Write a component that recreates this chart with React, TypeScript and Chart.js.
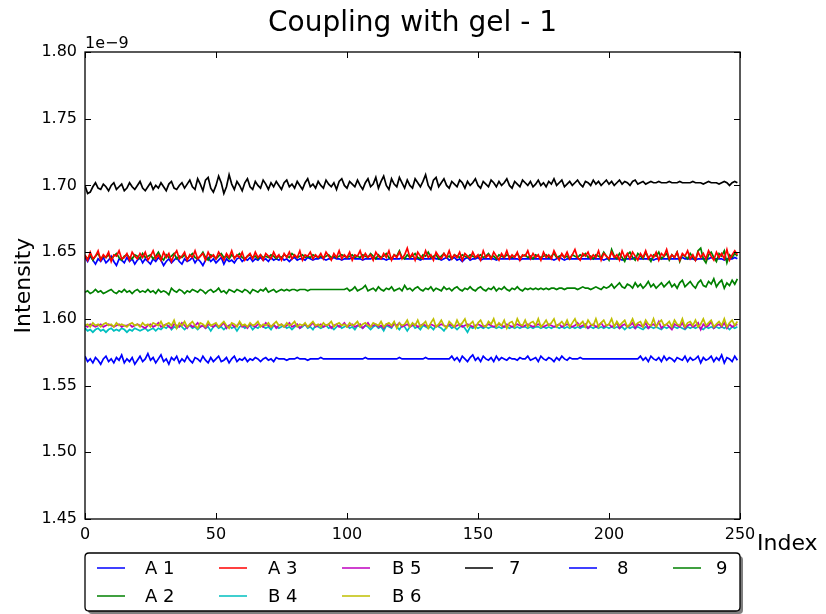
import { useEffect, useRef } from "react";
import { Chart, registerables } from "chart.js";

Chart.register(...registerables);

// ---------- text ----------
const TITLE = "Coupling with gel - 1";
const X_LABEL = "Index";
const Y_LABEL = "Intensity";
const Y_OFFSET_LABEL = "1e\u22129";

// ---------- ticks ----------
const X_TICKS = [0, 50, 100, 150, 200, 250];
const Y_TICKS = [1.45, 1.5, 1.55, 1.6, 1.65, 1.7, 1.75, 1.8];

// ---------- series (values in units of 1e-12, i.e. 1645 -> 1.645e-9) ----------
const SERIES_LABELS = ["A 1", "A 2", "A 3", "B 4", "B 5", "B 6", "7", "8", "9"];
const SERIES_COLORS = ["#0000ff", "#008000", "#ff0000", "#00bfbf", "#bf00bf", "#bfbf00", "#000000", "#0000ff", "#008000"];

const A1 = [
  1646,1643,1647,1644,1641,1645,1643,1646,1642,1644,1647,1643,1640,1645,1644,1642,1646,1643,1645,1641,1644,1646,1642,1645,1643,
  1641,1645,1643,1646,1644,1640,1643,1645,1642,1644,1646,1643,1641,1645,1643,1644,1646,1642,1645,1643,1640,1644,1646,1643,1645,
  1642,1644,1646,1641,1645,1643,1644,1642,1645,1646,1643,1645,1644,1646,1643,1645,1644,1646,1644,1645,1643,1646,1644,1645,1644,
  1646,1644,1645,1643,1645,1646,1644,1645,1645,1644,1646,1645,1644,1645,1645,1646,1645,1644,1645,1645,1646,1645,1645,1644,1645,
  1645,1645,1646,1645,1645,1645,1644,1645,1645,1645,1646,1645,1645,1645,1645,1644,1645,1645,1645,1645,1645,1646,1645,1645,1645,
  1645,1645,1645,1644,1645,1645,1645,1645,1646,1645,1645,1644,1645,1646,1644,1645,1646,1644,1645,1643,1645,1646,1644,1645,1645,
  1646,1644,1645,1645,1645,1645,1645,1644,1645,1645,1645,1645,1645,1645,1645,1645,1644,1645,1645,1645,1645,1645,1645,1645,1645,
  1645,1645,1645,1645,1644,1645,1646,1645,1644,1645,1645,1645,1645,1645,1645,1645,1645,1645,1645,1645,1645,1645,1645,1644,1645,
  1645,1645,1645,1645,1645,1644,1645,1645,1645,1645,1646,1645,1645,1645,1645,1645,1645,1644,1645,1645,1645,1645,1645,1645,1645,
  1645,1645,1645,1646,1645,1645,1645,1645,1644,1645,1645,1645,1645,1645,1646,1645,1645,1645,1645,1644,1645,1645,1645,1646,1645,
];

const A2 = [
  1647,1645,1648,1644,1647,1649,1645,1647,1646,1648,1645,1647,1649,1646,1644,1647,1648,1646,1645,1648,1647,1645,1649,1646,1647,
  1648,1645,1647,1650,1646,1644,1648,1646,1647,1649,1645,1647,1646,1648,1645,1647,1649,1646,1645,1647,1650,1646,1644,1648,1647,
  1645,1647,1649,1646,1647,1645,1648,1646,1647,1649,1646,1645,1647,1648,1646,1647,1645,1648,1646,1647,1646,1648,1647,1645,1647,
  1646,1648,1647,1646,1649,1647,1646,1647,1648,1646,1647,1646,1648,1647,1646,1647,1646,1647,1648,1646,1647,1646,1647,1648,1647,
  1646,1647,1648,1646,1647,1646,1648,1647,1646,1649,1647,1645,1648,1646,1647,1649,1646,1645,1648,1647,1651,1646,1645,1648,1646,
  1647,1649,1646,1645,1648,1647,1650,1646,1647,1648,1645,1647,1649,1646,1647,1645,1648,1647,1646,1648,1647,1646,1648,1647,1646,
  1647,1648,1646,1647,1649,1646,1647,1645,1648,1647,1646,1648,1647,1646,1647,1649,1646,1647,1648,1646,1647,1645,1648,1647,1646,
  1647,1648,1646,1647,1649,1646,1647,1648,1646,1647,1645,1648,1647,1646,1648,1647,1649,1646,1647,1645,1648,1647,1646,1650,1647,
  1644,1652,1647,1645,1649,1646,1643,1648,1650,1646,1644,1649,1647,1645,1650,1646,1643,1648,1647,1650,1645,1647,1649,1644,1648,
  1646,1650,1643,1648,1647,1645,1649,1646,1644,1651,1653,1645,1642,1648,1650,1646,1643,1649,1647,1651,1642,1648,1646,1649,1647,
];

const A3 = [
  1648,1644,1650,1645,1647,1651,1644,1648,1646,1650,1643,1648,1647,1651,1645,1646,1649,1644,1650,1647,1645,1649,1646,1650,1644,
  1647,1651,1645,1648,1644,1650,1646,1649,1643,1648,1651,1645,1647,1650,1644,1648,1646,1651,1645,1647,1649,1644,1650,1646,1648,
  1645,1650,1647,1644,1649,1646,1651,1645,1648,1646,1650,1644,1647,1649,1645,1650,1646,1648,1644,1649,1647,1645,1650,1646,1648,
  1644,1649,1646,1650,1645,1648,1646,1651,1644,1648,1647,1650,1645,1648,1646,1649,1645,1650,1647,1644,1649,1646,1651,1645,1648,
  1646,1650,1644,1648,1647,1651,1645,1649,1646,1648,1644,1650,1647,1645,1649,1646,1651,1644,1648,1646,1650,1645,1648,1653,1646,
  1649,1644,1650,1647,1645,1651,1646,1648,1644,1650,1647,1645,1649,1646,1651,1645,1648,1646,1650,1644,1649,1647,1645,1650,1646,
  1648,1644,1651,1646,1648,1645,1650,1647,1644,1649,1646,1651,1645,1648,1646,1650,1644,1648,1647,1651,1645,1649,1646,1648,1644,
  1650,1646,1648,1645,1651,1647,1644,1649,1646,1650,1645,1648,1652,1646,1644,1649,1647,1650,1645,1648,1646,1651,1644,1649,1647,
  1645,1650,1646,1648,1644,1651,1646,1649,1645,1650,1647,1644,1649,1646,1651,1645,1648,1646,1650,1644,1649,1647,1652,1645,1648,
  1646,1650,1644,1649,1647,1651,1645,1648,1644,1650,1646,1649,1645,1651,1647,1644,1650,1646,1649,1645,1652,1644,1648,1651,1648,
];

const B4 = [
  1593,1591,1592,1590,1592,1593,1591,1592,1590,1592,1593,1591,1592,1591,1593,1592,1590,1592,1591,1593,1592,1591,1592,1593,1591,
  1592,1593,1591,1593,1592,1594,1593,1595,1592,1594,1593,1595,1594,1592,1594,1595,1593,1594,1592,1594,1595,1593,1594,1591,1594,
  1595,1593,1594,1592,1594,1595,1593,1594,1591,1594,1595,1593,1594,1595,1592,1594,1593,1595,1594,1593,1594,1592,1595,1594,1593,
  1594,1595,1593,1594,1592,1594,1595,1593,1594,1596,1593,1594,1592,1595,1594,1593,1594,1595,1593,1594,1592,1594,1595,1593,1594,
  1595,1593,1594,1592,1595,1594,1593,1595,1594,1592,1594,1595,1593,1594,1591,1595,1594,1593,1597,1594,1592,1595,1594,1591,1594,
  1596,1593,1594,1592,1595,1594,1593,1594,1592,1595,1594,1593,1591,1594,1595,1593,1594,1592,1594,1595,1593,1590,1594,1593,1594,
  1593,1594,1593,1594,1593,1594,1594,1593,1594,1593,1594,1594,1593,1594,1593,1594,1593,1594,1594,1593,1594,1593,1594,1594,1593,
  1594,1593,1594,1593,1594,1594,1593,1594,1593,1594,1593,1594,1593,1594,1593,1594,1594,1593,1594,1593,1594,1593,1594,1593,1594,
  1593,1594,1593,1594,1593,1594,1592,1594,1593,1594,1593,1594,1593,1592,1594,1593,1594,1593,1594,1593,1592,1594,1593,1594,1593,
  1594,1593,1594,1593,1592,1594,1593,1594,1593,1594,1593,1592,1594,1593,1594,1593,1594,1593,1594,1593,1594,1592,1594,1593,1594,
];

const B5 = [
  1595,1594,1596,1595,1594,1595,1596,1594,1595,1596,1595,1594,1595,1596,1594,1595,1595,1596,1594,1595,1596,1595,1594,1593,1595,
  1596,1594,1595,1597,1594,1595,1596,1594,1593,1596,1595,1594,1597,1595,1593,1596,1594,1595,1597,1594,1595,1593,1596,1595,1594,
  1596,1594,1595,1597,1593,1595,1596,1594,1595,1597,1594,1595,1593,1596,1595,1594,1596,1595,1594,1597,1595,1594,1596,1593,1595,
  1596,1594,1595,1597,1594,1595,1596,1593,1595,1596,1594,1595,1597,1594,1595,1596,1594,1595,1596,1593,1595,1596,1594,1595,1597,
  1594,1595,1596,1594,1595,1596,1593,1595,1597,1594,1595,1596,1594,1595,1593,1596,1595,1594,1596,1595,1597,1594,1595,1596,1594,
  1595,1596,1594,1595,1596,1595,1594,1596,1595,1594,1595,1596,1595,1594,1596,1595,1594,1595,1596,1594,1595,1596,1595,1594,1595,
  1596,1595,1594,1595,1596,1595,1594,1595,1596,1595,1594,1596,1595,1594,1595,1596,1595,1594,1595,1596,1595,1594,1595,1596,1595,
  1594,1595,1596,1595,1594,1595,1596,1594,1595,1596,1595,1594,1595,1597,1594,1595,1596,1593,1595,1596,1594,1595,1597,1594,1595,
  1596,1594,1595,1597,1593,1595,1596,1594,1595,1597,1593,1596,1595,1594,1597,1593,1595,1596,1594,1598,1593,1595,1596,1594,1592,
  1596,1595,1594,1597,1593,1595,1596,1594,1595,1597,1592,1596,1594,1595,1598,1593,1595,1596,1594,1597,1593,1596,1594,1595,1596,
];

const B6 = [
  1595,1596,1594,1597,1595,1596,1594,1596,1597,1595,1596,1594,1597,1595,1596,1595,1594,1596,1597,1595,1596,1594,1597,1595,1596,
  1594,1597,1596,1595,1598,1594,1596,1597,1595,1599,1593,1597,1595,1598,1594,1596,1598,1595,1593,1597,1596,1594,1598,1595,1596,
  1597,1594,1596,1598,1595,1593,1597,1596,1594,1598,1595,1596,1594,1597,1595,1596,1598,1594,1596,1595,1597,1594,1596,1598,1595,
  1596,1594,1597,1595,1596,1598,1594,1596,1595,1597,1594,1596,1598,1595,1596,1594,1597,1595,1596,1598,1594,1596,1597,1595,1596,
  1594,1597,1595,1596,1598,1594,1596,1597,1595,1594,1597,1596,1595,1598,1594,1596,1597,1595,1598,1593,1597,1595,1596,1599,1594,
  1597,1595,1599,1594,1596,1598,1593,1597,1600,1594,1596,1599,1595,1593,1598,1596,1594,1599,1595,1597,1600,1594,1596,1598,1593,
  1597,1599,1595,1594,1598,1596,1600,1594,1597,1595,1599,1593,1597,1598,1594,1600,1596,1595,1599,1594,1597,1598,1595,1600,1594,
  1596,1599,1595,1597,1600,1594,1596,1598,1595,1599,1594,1597,1600,1595,1596,1598,1594,1599,1596,1595,1600,1594,1597,1599,1595,
  1596,1600,1594,1598,1595,1597,1599,1594,1596,1600,1595,1597,1598,1594,1599,1596,1595,1600,1594,1597,1599,1595,1596,1598,1594,
  1599,1596,1595,1600,1594,1597,1598,1595,1599,1594,1596,1600,1595,1597,1599,1594,1596,1598,1595,1600,1594,1597,1599,1595,1598,
];

const S7 = [
  1700,1694,1695,1699,1702,1698,1697,1701,1699,1696,1700,1702,1697,1699,1701,1696,1698,1702,1699,1697,1700,1703,1698,1696,1699,
  1702,1697,1700,1698,1702,1699,1696,1701,1703,1698,1697,1700,1702,1698,1701,1704,1699,1697,1705,1701,1696,1704,1706,1698,1695,
  1700,1707,1702,1694,1699,1708,1701,1697,1703,1700,1696,1702,1705,1699,1697,1703,1700,1698,1704,1701,1697,1702,1699,1703,1700,
  1697,1702,1704,1699,1701,1698,1703,1700,1697,1702,1705,1699,1701,1698,1703,1700,1698,1704,1701,1699,1702,1697,1703,1705,1700,
  1698,1703,1701,1699,1704,1700,1697,1702,1705,1699,1701,1706,1698,1703,1707,1700,1697,1705,1701,1699,1706,1702,1698,1704,1700,
  1698,1705,1702,1699,1703,1708,1700,1697,1704,1706,1699,1702,1705,1700,1698,1703,1701,1699,1704,1702,1698,1703,1700,1702,1705,
  1700,1698,1703,1701,1699,1704,1702,1699,1703,1700,1702,1705,1700,1698,1703,1701,1699,1704,1702,1700,1703,1699,1701,1704,1700,
  1702,1699,1703,1701,1705,1700,1702,1704,1699,1701,1703,1700,1702,1704,1701,1699,1703,1702,1700,1704,1701,1703,1700,1702,1704,
  1701,1703,1700,1702,1704,1701,1703,1702,1700,1703,1704,1701,1702,1703,1701,1702,1703,1702,1702,1703,1702,1702,1702,1703,1702,
  1702,1702,1703,1702,1702,1702,1702,1703,1702,1702,1702,1701,1702,1703,1702,1702,1702,1701,1702,1703,1702,1700,1702,1703,1702,
];

const S8 = [
  1572,1568,1570,1567,1571,1569,1566,1570,1572,1568,1570,1567,1571,1569,1573,1567,1570,1568,1571,1566,1569,1572,1568,1570,1574,
  1569,1571,1567,1570,1573,1568,1570,1566,1571,1569,1572,1567,1570,1568,1572,1569,1567,1571,1570,1568,1572,1569,1567,1571,1568,
  1570,1572,1568,1569,1571,1567,1570,1572,1568,1570,1569,1571,1568,1570,1569,1571,1570,1568,1570,1571,1569,1570,1568,1571,1570,
  1570,1570,1569,1570,1570,1570,1571,1570,1570,1570,1569,1570,1570,1570,1570,1571,1570,1570,1570,1570,1570,1570,1570,1570,1570,
  1570,1570,1570,1570,1570,1570,1570,1571,1570,1570,1570,1570,1570,1570,1570,1570,1570,1570,1570,1570,1571,1570,1570,1570,1570,
  1570,1570,1570,1570,1570,1571,1570,1570,1570,1570,1570,1570,1570,1570,1570,1572,1569,1571,1568,1572,1570,1568,1571,1573,1569,
  1571,1568,1572,1570,1569,1571,1568,1572,1569,1571,1570,1569,1571,1570,1570,1569,1571,1570,1570,1572,1569,1570,1571,1568,1572,
  1570,1569,1571,1570,1568,1571,1569,1572,1570,1569,1571,1570,1570,1570,1571,1570,1570,1570,1570,1570,1570,1570,1570,1570,1570,
  1570,1570,1570,1570,1570,1570,1570,1570,1570,1570,1570,1570,1572,1569,1571,1568,1572,1570,1569,1571,1568,1572,1569,1571,1570,
  1568,1571,1570,1569,1572,1568,1571,1569,1570,1572,1567,1571,1569,1570,1572,1568,1571,1569,1573,1567,1571,1570,1568,1572,1569,
];

const S9 = [
  1620,1621,1619,1620,1622,1620,1621,1619,1620,1621,1622,1620,1619,1621,1620,1622,1620,1621,1619,1621,1622,1620,1621,1620,1622,
  1620,1621,1619,1622,1620,1621,1620,1618,1623,1621,1620,1622,1621,1619,1621,1620,1622,1621,1620,1622,1621,1619,1621,1622,1620,
  1621,1623,1620,1621,1619,1622,1621,1620,1622,1621,1620,1622,1621,1619,1622,1621,1620,1622,1621,1623,1620,1621,1622,1620,1621,
  1622,1621,1622,1621,1622,1622,1621,1622,1622,1622,1621,1622,1622,1622,1622,1622,1622,1622,1622,1622,1622,1622,1622,1622,1622,
  1623,1621,1622,1624,1621,1622,1623,1625,1621,1622,1623,1621,1624,1622,1621,1623,1622,1624,1621,1622,1623,1621,1625,1622,1623,
  1621,1623,1624,1622,1621,1623,1622,1624,1621,1623,1622,1621,1624,1622,1623,1621,1623,1624,1622,1621,1623,1622,1624,1622,1621,
  1623,1624,1622,1621,1623,1622,1624,1621,1623,1622,1624,1622,1621,1623,1622,1624,1622,1621,1623,1622,1623,1622,1623,1622,1623,
  1622,1623,1622,1623,1623,1622,1623,1623,1622,1623,1623,1623,1623,1622,1623,1624,1623,1623,1622,1623,1624,1623,1622,1624,1623,
  1624,1626,1623,1625,1627,1624,1623,1626,1625,1623,1627,1624,1626,1623,1625,1628,1624,1626,1623,1625,1627,1624,1626,1628,1624,
  1626,1623,1627,1629,1624,1626,1628,1625,1623,1627,1629,1625,1624,1628,1626,1630,1624,1627,1629,1623,1627,1625,1629,1626,1630,
];

const SERIES = [A1, A2, A3, B4, B5, B6, S7, S8, S9];

// ---------- layout / style constants ----------
const W = 826;
const H = 614;
const FONT = "'DejaVu Sans', 'Liberation Sans', sans-serif";
const LINE_W = 1.7;
const LEGEND_NCOL = 6;
const LEGEND_LINE_X = [97, 219, 342, 465, 569, 673];
const LEGEND_TEXT_X = [145, 268, 392, 509, 617, 716];
const LEGEND_ROW_Y = [568, 596];

const decorPlugin = {
  id: "mplDecor",
  afterDatasetsDraw(chart: any) {
    const { ctx, chartArea: a, scales } = chart;
    const xs = scales.x;
    const ys = scales.y;
    ctx.save();
    ctx.strokeStyle = "#000";
    ctx.lineWidth = 1;
    const tl = 6;
    ctx.beginPath();
    xs.ticks.forEach((t: any) => {
      const px = Math.round(xs.getPixelForValue(t.value)) + 0.5;
      ctx.moveTo(px, a.bottom);
      ctx.lineTo(px, a.bottom - tl);
      ctx.moveTo(px, a.top);
      ctx.lineTo(px, a.top + tl);
    });
    ys.ticks.forEach((t: any) => {
      const py = Math.round(ys.getPixelForValue(t.value)) + 0.5;
      ctx.moveTo(a.left, py);
      ctx.lineTo(a.left + tl, py);
      ctx.moveTo(a.right, py);
      ctx.lineTo(a.right - tl, py);
    });
    ctx.stroke();
    ctx.lineWidth = 1.3;
    ctx.strokeRect(a.left, a.top, a.right - a.left, a.bottom - a.top);
    ctx.restore();
  },
  afterDraw(chart: any) {
    const { ctx, chartArea: a } = chart;
    ctx.save();
    ctx.fillStyle = "#000";
    // title
    ctx.font = `28px ${FONT}`;
    ctx.textAlign = "center";
    ctx.textBaseline = "alphabetic";
    ctx.fillText(TITLE, (a.left + a.right) / 2, 31);
    // offset text
    ctx.font = `16px ${FONT}`;
    ctx.textAlign = "left";
    ctx.fillText(Y_OFFSET_LABEL, a.left, 48);
    // x label
    ctx.font = `22px ${FONT}`;
    ctx.fillText(X_LABEL, 757, 550);
    // y label
    ctx.save();
    ctx.translate(30, (a.top + a.bottom) / 2);
    ctx.rotate(-Math.PI / 2);
    ctx.textAlign = "center";
    ctx.fillText(Y_LABEL, 0, 0);
    ctx.restore();

    // legend (column-major like matplotlib)
    const ds = chart.data.datasets;
    const n = ds.length;
    const nrows = Math.ceil(n / LEGEND_NCOL);
    const nLarge = n % LEGEND_NCOL === 0 ? LEGEND_NCOL : n % LEGEND_NCOL;
    const boxL = a.left;
    const boxT = 553;
    const boxW = a.right - a.left;
    const boxH = 58;
    const r = 4;
    const rr = (x: number, y: number, w: number, h: number) => {
      ctx.beginPath();
      ctx.moveTo(x + r, y);
      ctx.lineTo(x + w - r, y);
      ctx.quadraticCurveTo(x + w, y, x + w, y + r);
      ctx.lineTo(x + w, y + h - r);
      ctx.quadraticCurveTo(x + w, y + h, x + w - r, y + h);
      ctx.lineTo(x + r, y + h);
      ctx.quadraticCurveTo(x, y + h, x, y + h - r);
      ctx.lineTo(x, y + r);
      ctx.quadraticCurveTo(x, y, x + r, y);
      ctx.closePath();
    };
    ctx.fillStyle = "#7f7f7f";
    rr(boxL + 3, boxT + 3, boxW, boxH);
    ctx.fill();
    ctx.fillStyle = "#fff";
    ctx.strokeStyle = "#000";
    ctx.lineWidth = 1.3;
    rr(boxL, boxT, boxW, boxH);
    ctx.fill();
    ctx.stroke();

    ctx.font = `18px ${FONT}`;
    ctx.textAlign = "left";
    ctx.textBaseline = "middle";
    let idx = 0;
    for (let c = 0; c < LEGEND_NCOL && idx < n; c++) {
      const rowsInCol = c < nLarge ? nrows : nrows - 1;
      for (let rI = 0; rI < rowsInCol && idx < n; rI++, idx++) {
        const d = ds[idx];
        const y = LEGEND_ROW_Y[rI];
        ctx.strokeStyle = d.borderColor;
        ctx.lineWidth = 1.5;
        ctx.beginPath();
        ctx.moveTo(LEGEND_LINE_X[c], y);
        ctx.lineTo(LEGEND_LINE_X[c] + 28, y);
        ctx.stroke();
        ctx.fillStyle = "#000";
        ctx.fillText(d.label, LEGEND_TEXT_X[c], y + 1);
      }
    }
    ctx.restore();
  },
};

export default function App() {
  const ref = useRef<HTMLCanvasElement>(null);

  useEffect(() => {
    if (!ref.current) return;
    const datasets = SERIES.map((arr, i) => ({
      label: SERIES_LABELS[i],
      data: arr.map((v, k) => ({ x: k, y: v / 1000 })),
      borderColor: SERIES_COLORS[i],
      backgroundColor: SERIES_COLORS[i],
      borderWidth: LINE_W,
      pointRadius: 0,
      tension: 0,
      fill: false,
      order: SERIES.length - i,
    }));
    const chart = new Chart(ref.current, {
      type: "line",
      data: { datasets },
      options: {
        responsive: false,
        animation: false,
        devicePixelRatio: 1,
        events: [],
        layout: { padding: { left: 0, top: 52, right: W - 740, bottom: H - 519 - 40 } },
        plugins: {
          legend: { display: false },
          tooltip: { enabled: false },
          title: { display: false },
        },
        scales: {
          x: {
            type: "linear",
            min: 0,
            max: 250,
            afterBuildTicks: (s: any) => {
              s.ticks = X_TICKS.map((v) => ({ value: v }));
            },
            afterFit: (s: any) => {
              s.height = 40;
            },
            grid: { display: false, drawTicks: false },
            border: { display: false },
            ticks: {
              autoSkip: false,
              maxRotation: 0,
              padding: 6,
              color: "#000",
              font: { family: FONT, size: 16 },
              callback: (v: any) => String(v),
            },
          },
          y: {
            type: "linear",
            min: 1.45,
            max: 1.8,
            afterBuildTicks: (s: any) => {
              s.ticks = Y_TICKS.map((v) => ({ value: v }));
            },
            afterFit: (s: any) => {
              s.width = 85;
            },
            grid: { display: false, drawTicks: false },
            border: { display: false },
            ticks: {
              autoSkip: false,
              padding: 8,
              color: "#000",
              font: { family: FONT, size: 16 },
              callback: (v: any) => Number(v).toFixed(2),
            },
          },
        },
      },
      plugins: [decorPlugin],
    });
    return () => chart.destroy();
  }, []);

  return (
    <div style={{ position: "fixed", left: 0, top: 0, width: W, height: H, background: "#fff" }}>
      <canvas ref={ref} width={W} height={H} style={{ display: "block", width: W, height: H }} />
    </div>
  );
}
